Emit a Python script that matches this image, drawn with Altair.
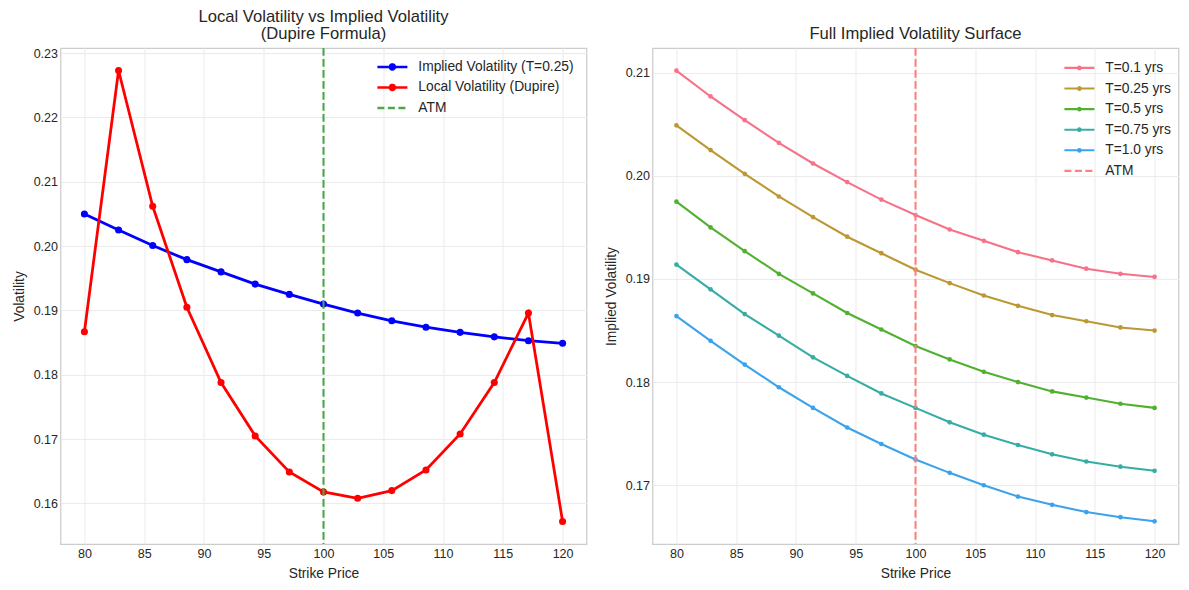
import altair as alt
import pandas as pd

# ---------------- data ----------------
strikes = [80.0, 82.857, 85.714, 88.571, 91.429, 94.286, 97.143, 100.0,
           102.857, 105.714, 108.571, 111.429, 114.286, 117.143, 120.0]

left_series = ["Implied Volatility (T=0.25)", "Local Volatility (Dupire)"]
implied_vol_t025 = [0.2050, 0.2025, 0.2001, 0.1979, 0.1960, 0.1941, 0.1925, 0.1910,
                    0.1896, 0.1884, 0.1874, 0.1866, 0.1859, 0.1853, 0.1849]
local_vol = [0.1867, 0.2273, 0.2062, 0.1905, 0.1788, 0.1705, 0.1649, 0.1618,
             0.1608, 0.1620, 0.1652, 0.1708, 0.1788, 0.1896, 0.1572]

right_series = ["T=0.1 yrs", "T=0.25 yrs", "T=0.5 yrs", "T=0.75 yrs", "T=1.0 yrs"]
iv_t01 = [0.2102, 0.2077, 0.2054, 0.2032, 0.2012, 0.1994, 0.1977, 0.1962,
          0.1948, 0.1937, 0.1926, 0.1918, 0.1910, 0.1905, 0.1902]
iv_t025 = [0.2049, 0.2025, 0.2002, 0.1980, 0.1960, 0.1941, 0.1925, 0.1909,
           0.1896, 0.1884, 0.1874, 0.1865, 0.1859, 0.1853, 0.1850]
iv_t05 = [0.1975, 0.1950, 0.1927, 0.1905, 0.1886, 0.1867, 0.1851, 0.1835,
          0.1822, 0.1810, 0.1800, 0.1791, 0.1785, 0.1779, 0.1775]
iv_t075 = [0.1914, 0.1890, 0.1866, 0.1845, 0.1824, 0.1806, 0.1789, 0.1775,
           0.1761, 0.1749, 0.1739, 0.1730, 0.1723, 0.1718, 0.1714]
iv_t10 = [0.1864, 0.1840, 0.1817, 0.1795, 0.1775, 0.1756, 0.1740, 0.1725,
          0.1712, 0.1700, 0.1689, 0.1681, 0.1674, 0.1669, 0.1665]

atm_label = "ATM"
atm_strike = [100]

x_ticks = [80, 85, 90, 95, 100, 105, 110, 115, 120]
left_y_ticks = [0.16, 0.17, 0.18, 0.19, 0.20, 0.21, 0.22, 0.23]
right_y_ticks = [0.17, 0.18, 0.19, 0.20, 0.21]
x_domain = [78, 122]
left_y_domain = [0.1537, 0.2308]
right_y_domain = [0.1643, 0.2124]

left_colors = ["#0000ff", "#ff0000", "#4da64d"]
right_colors = ["#f77189", "#bb9832", "#50b131", "#36ada4", "#3ba3ec", "#ff8080"]

# ---------------- tables ----------------
left_df = pd.DataFrame({
    "strike": strikes * 2,
    "vol": implied_vol_t025 + local_vol,
    "series": [left_series[0]] * len(strikes) + [left_series[1]] * len(strikes),
})
right_vals = [iv_t01, iv_t025, iv_t05, iv_t075, iv_t10]
right_df = pd.DataFrame({
    "strike": strikes * len(right_series),
    "vol": [v for s in right_vals for v in s],
    "series": [name for name in right_series for _ in strikes],
})
atm_df = pd.DataFrame({"strike": atm_strike, "series": [atm_label]})

FONT = "Liberation Sans"
TXT = "#262626"


def dot_path(r1, r2):
    ring = lambda r: f"M-{r},0A{r},{r},0,1,0,{r},0A{r},{r},0,1,0,-{r},0"
    return "M-3,0L3,0" + ring(r1) + ring(r2)


def make_legend(row_pad, r1, r2, sw, **pos):
    p = dot_path(r1, r2)
    return alt.Legend(
        title=None, padding=0,
        symbolType=alt.ExprRef(f"datum.value === 'ATM' ? 'M-3,0L3,0' : '{p}'"),
        symbolDash=alt.ExprRef("datum.value === 'ATM' ? [7,3.5] : [1,0]"),
        symbolSize=100, symbolStrokeWidth=sw, symbolOffset=0, symbolOpacity=1,
        labelOffset=19, labelFontSize=13.8, labelFont=FONT, labelColor=TXT,
        labelLimit=400, rowPadding=row_pad, **pos,
    )


def panel(df, domain_series, colors, y_domain, y_ticks, y_title, title,
          lw, pt_size, legend, rule_w):
    cscale = alt.Scale(domain=domain_series + [atm_label], range=colors)
    x = alt.X("strike:Q", scale=alt.Scale(domain=x_domain, nice=False, zero=False),
              axis=alt.Axis(values=x_ticks, title="Strike Price", format="d"))
    y = alt.Y("vol:Q", scale=alt.Scale(domain=y_domain, nice=False, zero=False),
              axis=alt.Axis(values=y_ticks, title=y_title, format=".2f"))
    lines = alt.Chart(df).mark_line(strokeWidth=lw).encode(
        x=x, y=y, color=alt.Color("series:N", scale=cscale, legend=legend))
    points = alt.Chart(df).mark_point(filled=True, size=pt_size, opacity=1).encode(
        x=x, y=y, color=alt.Color("series:N", scale=cscale, legend=None))
    rule = alt.Chart(atm_df).mark_rule(strokeDash=[7.7, 3.3], strokeWidth=rule_w).encode(
        x=alt.X("strike:Q", scale=alt.Scale(domain=x_domain, nice=False, zero=False)),
        color=alt.Color("series:N", scale=cscale, legend=None))
    return alt.layer(lines, points, rule).properties(
        width=526, height=496,
        title=alt.TitleParams(title, frame="group", anchor="middle", offset=4,
                              lineHeight=17),
    )


left = panel(left_df, left_series, left_colors, left_y_domain, left_y_ticks,
             "Volatility",
             ["Local Volatility vs Implied Volatility", "(Dupire Formula)"],
             2.78, 50,
             make_legend(4.5, 0.1, 0.5, 2.5, orient="top-right", offset=12),
             2.08)

right = panel(right_df, right_series, right_colors, right_y_domain, right_y_ticks,
              "Implied Volatility",
              [" ", "Full Implied Volatility Surface"],
              2.08, 22,
              make_legend(5.6, 0.1, 0.27, 2.08, orient="none", legendX=420, legendY=13),
              2.08)

chart = alt.hconcat(left, right, spacing=16).properties(
    padding={"left": 11.5, "top": 8, "right": 7.5, "bottom": 11}
).resolve_scale(color="independent").configure(
    font=FONT,
).configure_view(
    stroke="#cccccc", strokeWidth=1.25,
).configure_axis(
    domain=False, ticks=False, grid=True, gridColor="#ebebeb", gridWidth=1,
    labelFont=FONT, labelFontSize=12.5, labelColor=TXT, labelPadding=3,
    titleFont=FONT, titleFontSize=13.8, titleFontWeight="normal", titleColor=TXT,
    titlePadding=7,
).configure_title(
    font=FONT, fontSize=16.6, fontWeight="normal", color=TXT,
)

chart.save("out.html", embed_options={"renderer": "svg", "actions": False})
